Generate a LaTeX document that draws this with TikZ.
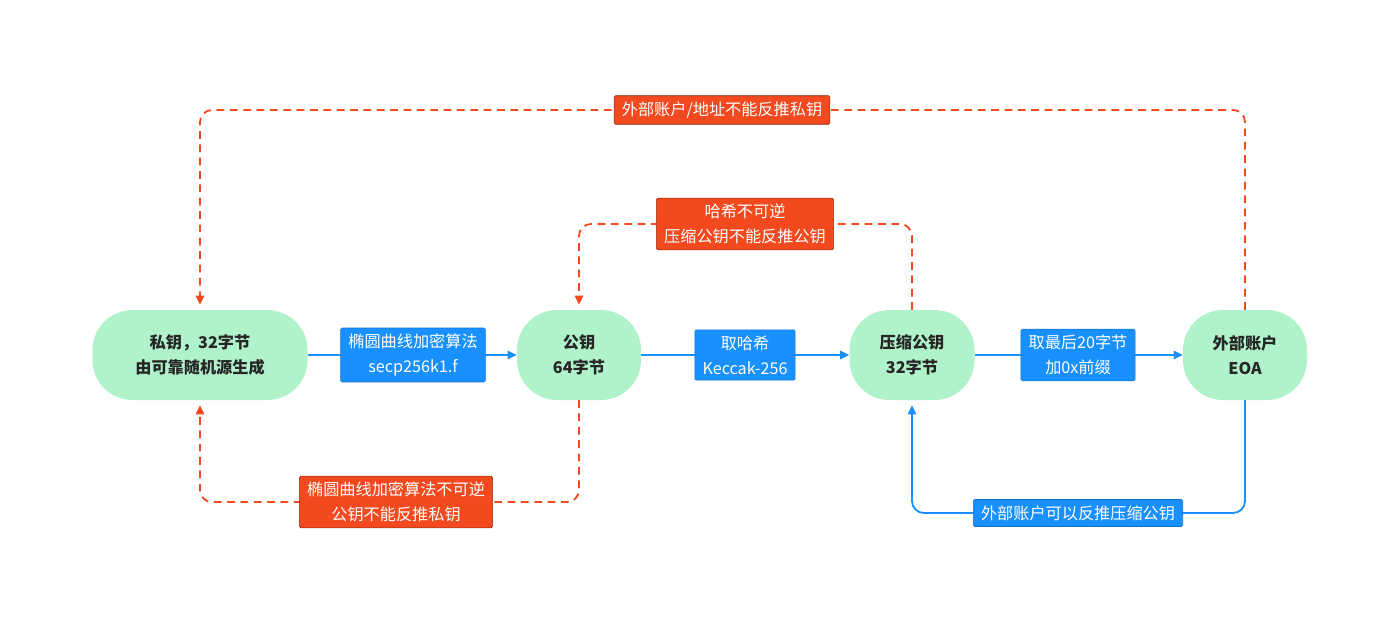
\documentclass[tikz,border=0pt]{standalone}
\usepackage{fontspec}
\setmainfont{Noto Sans CJK SC}
\usetikzlibrary{arrows.meta,backgrounds}
\definecolor{gr}{HTML}{B0F2CA}
\definecolor{bl}{HTML}{1890FF}
\definecolor{rd}{HTML}{F2491F}
\begin{document}
\begin{tikzpicture}[x=0.05cm,y=-0.05cm,
  key/.style={fill=gr,rounded corners=40*0.05cm,minimum height=90*0.05cm,align=center,font=\fontsize{23}{35}\selectfont\bfseries,text=black!85},
  bbox/.style={fill=bl,draw=bl!80!black,line width=0.8pt,rounded corners=2pt,text=white,align=center,font=\fontsize{23}{35}\selectfont,inner xsep=11pt,inner ysep=8.5pt},
  rbox/.style={fill=rd,draw=rd!60!black,line width=0.8pt,rounded corners=2pt,text=white,align=center,font=\fontsize{23}{35}\selectfont,inner xsep=11pt,inner ysep=8.5pt},
  bl arr/.style={draw=bl,line width=2.6pt,-{Triangle[length=13pt,width=12pt]},rounded corners=12*0.05cm},
  rd arr/.style={draw=rd,line width=2.6pt,dash pattern=on 11pt off 8pt,-{Triangle[length=13pt,width=12pt]},rounded corners=12*0.05cm}]
\useasboundingbox (0,0) rectangle (1400,626);
\node[key,minimum width=215*0.05cm] (pk) at (200,355) {私钥，32字节\\由可靠随机源生成};
\node[key,minimum width=124*0.05cm] (pub) at (579,355) {公钥\\64字节};
\node[key,minimum width=125*0.05cm] (cpub) at (912,355) {压缩公钥\\32字节};
\node[key,minimum width=124*0.05cm] (eoa) at (1245,355) {外部账户\\EOA};
\node[bbox] (l1) at (413,355) {椭圆曲线加密算法\\secp256k1.f};
\node[bbox] (l2) at (745,355) {取哈希\\Keccak-256};
\node[bbox] (l3) at (1078,355) {取最后20字节\\加0x前缀};
\node[bbox] (l4) at (1078,513) {外部账户可以反推压缩公钥};
\node[rbox] (r1) at (722,110) {外部账户/地址不能反推私钥};
\node[rbox] (r2) at (745,224) {哈希不可逆\\压缩公钥不能反推公钥};
\node[rbox] (r3) at (396,502) {椭圆曲线加密算法不可逆\\公钥不能反推私钥};
\begin{scope}[on background layer]
\draw[bl arr] (pk.east) -- (pub.west);
\draw[bl arr] (pub.east) -- (cpub.west);
\draw[bl arr] (cpub.east) -- (eoa.west);
\draw[bl arr] (eoa.south) |- (l4.center) -| ([yshift=-5*0.05cm]cpub.south);
\draw[rd arr] (eoa.north) |- (r1.center) -| ([yshift=5*0.05cm]pk.north);
\draw[rd arr] (cpub.north) |- (r2.center) -| ([yshift=5*0.05cm]pub.north);
\draw[rd arr] (pub.south) |- (r3.center) -| ([yshift=-5*0.05cm]pk.south);
\end{scope}
\end{tikzpicture}
\end{document}
